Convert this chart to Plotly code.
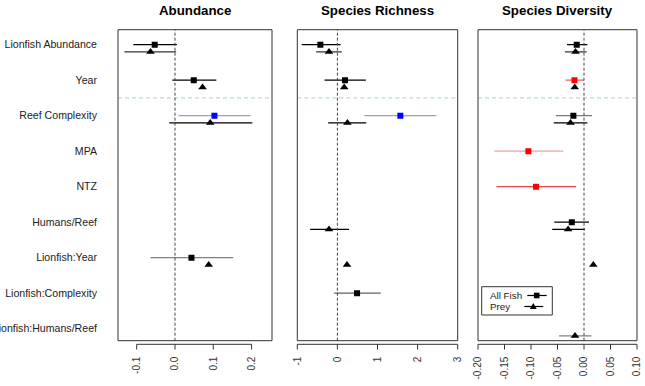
import plotly.graph_objects as go

W, H = 645, 386

rows = ["Lionfish Abundance", "Year", "Reef Complexity", "MPA", "NTZ",
        "Humans/Reef", "Lionfish:Year", "Lionfish:Complexity", "Lionfish:Humans/Reef"]
titles = ["Abundance", "Species Richness", "Species Diversity"]

# ---- Abundance ----
ab_fish_est = [-0.053, 0.049, 0.103, None, None, None, 0.043, None, None]
ab_fish_lo = [-0.109, -0.007, 0.009, None, None, None, -0.064, None, None]
ab_fish_hi = [0.005, 0.108, 0.197, None, None, None, 0.152, None, None]
ab_fish_pt = ["black", "black", "blue", None, None, None, "black", None, None]
ab_fish_ln = ["black", "black", "#9A9AEC", None, None, None, "#808080", None, None]

ab_prey_est = [-0.064, 0.072, 0.092, None, None, None, 0.088, None, None]
ab_prey_lo = [-0.132, None, -0.015, None, None, None, None, None, None]
ab_prey_hi = [0.003, None, 0.202, None, None, None, None, None, None]
ab_prey_ln = ["#333333", None, "black", None, None, None, None, None, None]

# ---- Species richness ----
ri_fish_est = [-0.425, 0.19, 1.57, None, None, None, None, 0.49, None]
ri_fish_lo = [-0.89, -0.32, 0.67, None, None, None, None, -0.08, None]
ri_fish_hi = [0.08, 0.71, 2.47, None, None, None, None, 1.08, None]
ri_fish_pt = ["black", "black", "blue", None, None, None, None, "black", None]
ri_fish_ln = ["black", "black", "#9A9AEC", None, None, None, None, "#606060", None]

ri_prey_est = [-0.21, 0.17, 0.25, None, None, -0.21, 0.24, None, None]
ri_prey_lo = [-0.53, None, -0.23, None, None, -0.68, None, None, None]
ri_prey_hi = [0.11, None, 0.72, None, None, 0.29, None, None, None]
ri_prey_ln = ["#333333", None, "black", None, None, "black", None, None, None]

# ---- Species diversity ----
di_fish_est = [-0.0137, -0.018, -0.020, -0.105, -0.0906, -0.023, None, None, None]
di_fish_lo = [-0.032, -0.035, -0.053, -0.169, -0.165, -0.056, None, None, None]
di_fish_hi = [0.0064, 0.0, 0.015, -0.039, -0.015, 0.0094, None, None, None]
di_fish_pt = ["black", "red", "black", "red", "red", "black", None, None, None]
di_fish_ln = ["black", "#F06060", "#7A7A7A", "#F2A0A0", "#E04848", "black", None, None, None]

di_prey_est = [-0.016, -0.0175, -0.0255, None, None, -0.030, 0.0176, None, -0.017]
di_prey_lo = [-0.036, None, -0.057, None, None, -0.060, None, None, -0.047]
di_prey_hi = [0.005, None, 0.0064, None, None, 0.002, None, None, 0.0139]
di_prey_ln = ["#333333", None, "black", None, None, "black", None, None, "#808080"]

x_ranges = [[-0.1488, 0.2533], [-1, 3], [-0.2, 0.1]]
tick_vals = [[-0.1, 0.0, 0.1, 0.2], [-1, 0, 1, 2, 3],
             [-0.20, -0.15, -0.10, -0.05, 0.00, 0.05, 0.10]]
tick_text = [["-0.1", "0.0", "0.1", "0.2"], ["-1", "0", "1", "2", "3"],
             ["-0.20", "-0.15", "-0.10", "-0.05", "0.00", "0.05", "0.10"]]

panels = [
    (ab_fish_est, ab_fish_lo, ab_fish_hi, ab_fish_pt, ab_fish_ln,
     ab_prey_est, ab_prey_lo, ab_prey_hi, ab_prey_ln),
    (ri_fish_est, ri_fish_lo, ri_fish_hi, ri_fish_pt, ri_fish_ln,
     ri_prey_est, ri_prey_lo, ri_prey_hi, ri_prey_ln),
    (di_fish_est, di_fish_lo, di_fish_hi, di_fish_pt, di_fish_ln,
     di_prey_est, di_prey_lo, di_prey_hi, di_prey_ln),
]

PREY_OFFSET = 0.2
SEPARATOR_ROW = 1.5
y_rows = list(range(len(rows)))


def px(x):
    return x / W


def py(y):
    return 1 - y / H


x_domains = [[px(118), px(272)], [px(297.3), px(457.7)], [px(478), px(637)]]
y_domain = [py(340.7), py(29.7)]
y_range = [8.338, -0.4225]

fig = go.Figure()
FONT = "Liberation Sans, Arial, sans-serif"

for p, data in enumerate(panels):
    fe, flo, fhi, fpt, fln, pe, plo, phi, pln = data
    xa = "x" if p == 0 else f"x{p+1}"
    ya = "y" if p == 0 else f"y{p+1}"
    # CI lines
    for i in y_rows:
        if flo[i] is not None:
            fig.add_trace(go.Scatter(x=[flo[i], fhi[i]], y=[i, i], mode="lines",
                                     line=dict(color=fln[i], width=1.3),
                                     hoverinfo="skip", showlegend=False, xaxis=xa, yaxis=ya))
        if plo[i] is not None:
            fig.add_trace(go.Scatter(x=[plo[i], phi[i]], y=[i + PREY_OFFSET, i + PREY_OFFSET],
                                     mode="lines", line=dict(color=pln[i], width=1.3),
                                     hoverinfo="skip", showlegend=False, xaxis=xa, yaxis=ya))
    # points
    fx = [fe[i] for i in y_rows if fe[i] is not None]
    fy = [i for i in y_rows if fe[i] is not None]
    fc = [fpt[i] for i in y_rows if fe[i] is not None]
    fig.add_trace(go.Scatter(x=fx, y=fy, mode="markers",
                             marker=dict(symbol="square", size=6, color=fc, line=dict(width=0)),
                             showlegend=False, name="All Fish", xaxis=xa, yaxis=ya))
    px_ = [pe[i] for i in y_rows if pe[i] is not None]
    py_ = [i + PREY_OFFSET for i in y_rows if pe[i] is not None]
    fig.add_trace(go.Scatter(x=px_, y=py_, mode="markers",
                             marker=dict(symbol="triangle-up", size=7.5, color="black", line=dict(width=0)),
                             showlegend=False, name="Prey", xaxis=xa, yaxis=ya))

shapes = []
annotations = []
layout = dict(
    width=W, height=H, margin=dict(l=0, r=0, t=0, b=0, autoexpand=False),
    paper_bgcolor="white", plot_bgcolor="white",
    font=dict(family=FONT, size=10, color="#222"),
)

sep_frac = (SEPARATOR_ROW - y_range[0]) / (y_range[1] - y_range[0])

for p in range(3):
    sfx = "" if p == 0 else str(p + 1)
    xr = x_ranges[p]
    layout[f"xaxis{sfx}"] = dict(
        domain=x_domains[p], range=xr, showgrid=False, zeroline=False, showline=False,
        tickvals=tick_vals[p], ticktext=tick_text[p], tickangle=-90, ticks="",
        ticklabelstandoff=13, tickfont=dict(size=10, color="#333"),
        anchor=f"y{sfx}", fixedrange=True, automargin=False,
    )
    yax = dict(domain=y_domain, range=y_range, showgrid=False, zeroline=False,
               showline=False, ticks="", anchor=f"x{sfx}", fixedrange=True,
               automargin=False)
    if p == 0:
        yax.update(tickvals=y_rows, ticktext=rows, ticklabelstandoff=20,
                   tickfont=dict(size=10.6, color="#222"))
    else:
        yax.update(showticklabels=False)
    layout[f"yaxis{sfx}"] = yax

    xref_d = f"x{sfx} domain"
    yref_d = f"y{sfx} domain"
    # blue dashed separator between rows
    shapes.append(dict(type="line", xref=xref_d, yref=yref_d, x0=0, x1=1,
                       y0=sep_frac, y1=sep_frac,
                       line=dict(color="#B8D8EA", width=1.2, dash="4px,3px")))
    # zero dashed line
    f = lambda v: (v - xr[0]) / (xr[1] - xr[0])
    shapes.append(dict(type="line", xref=xref_d, yref=yref_d, x0=f(0), x1=f(0), y0=0, y1=1,
                       line=dict(color="#444", width=1, dash="3px,2px")))
    # frame
    shapes.append(dict(type="rect", xref=xref_d, yref=yref_d, x0=0, x1=1, y0=0, y1=1,
                       line=dict(color="#333", width=1)))
    # axis line + ticks below frame
    tv = tick_vals[p]
    shapes.append(dict(type="line", xref=xref_d, yref="paper", x0=f(tv[0]), x1=f(tv[-1]),
                       y0=py(344.3), y1=py(344.3), line=dict(color="#333", width=1)))
    for v in tv:
        shapes.append(dict(type="line", xref=xref_d, yref="paper", x0=f(v), x1=f(v),
                           y0=py(344.3), y1=py(349.5), line=dict(color="#333", width=1)))
    # title
    annotations.append(dict(text=f"<b>{titles[p]}</b>", xref="paper", yref="paper",
                            x=(x_domains[p][0] + x_domains[p][1]) / 2, y=py(10.5),
                            xanchor="center", yanchor="middle", showarrow=False,
                            font=dict(size=13.3, color="black", family=FONT)))

# legend box inside the diversity panel (paper coordinates)
shapes.append(dict(type="rect", xref="paper", yref="paper", x0=px(481.7), x1=px(552.3),
                   y0=py(315), y1=py(286.7), line=dict(color="#333", width=1),
                   fillcolor="white", layer="above"))
leg_items = [("All Fish", 295.5, 527.3, 546.7, 536.7, "square"),
             ("Prey", 306.5, 524.3, 543.3, 533.3, "triangle")]
for label, yy, l0, l1, mx, sym in leg_items:
    annotations.append(dict(text=label, xref="paper", yref="paper", x=px(487.5), y=py(yy),
                            xanchor="left", yanchor="middle", showarrow=False,
                            font=dict(size=9.8, color="#222", family=FONT)))
    shapes.append(dict(type="line", xref="paper", yref="paper", x0=px(l0), x1=px(l1),
                       y0=py(yy), y1=py(yy), line=dict(color="black", width=1.2)))
    if sym == "square":
        shapes.append(dict(type="rect", xref="paper", yref="paper", x0=px(mx - 2.8), x1=px(mx + 2.8),
                           y0=py(yy + 2.8), y1=py(yy - 2.8), fillcolor="black",
                           line=dict(width=0)))
    else:
        path = (f"M {px(mx - 3.4)},{py(yy + 2.4)} L {px(mx + 3.4)},{py(yy + 2.4)} "
                f"L {px(mx)},{py(yy - 3.4)} Z")
        shapes.append(dict(type="path", xref="paper", yref="paper", path=path,
                           fillcolor="black", line=dict(width=0)))

layout["shapes"] = shapes
layout["annotations"] = annotations
fig.update_layout(**layout)

fig.write_html("out.html")
